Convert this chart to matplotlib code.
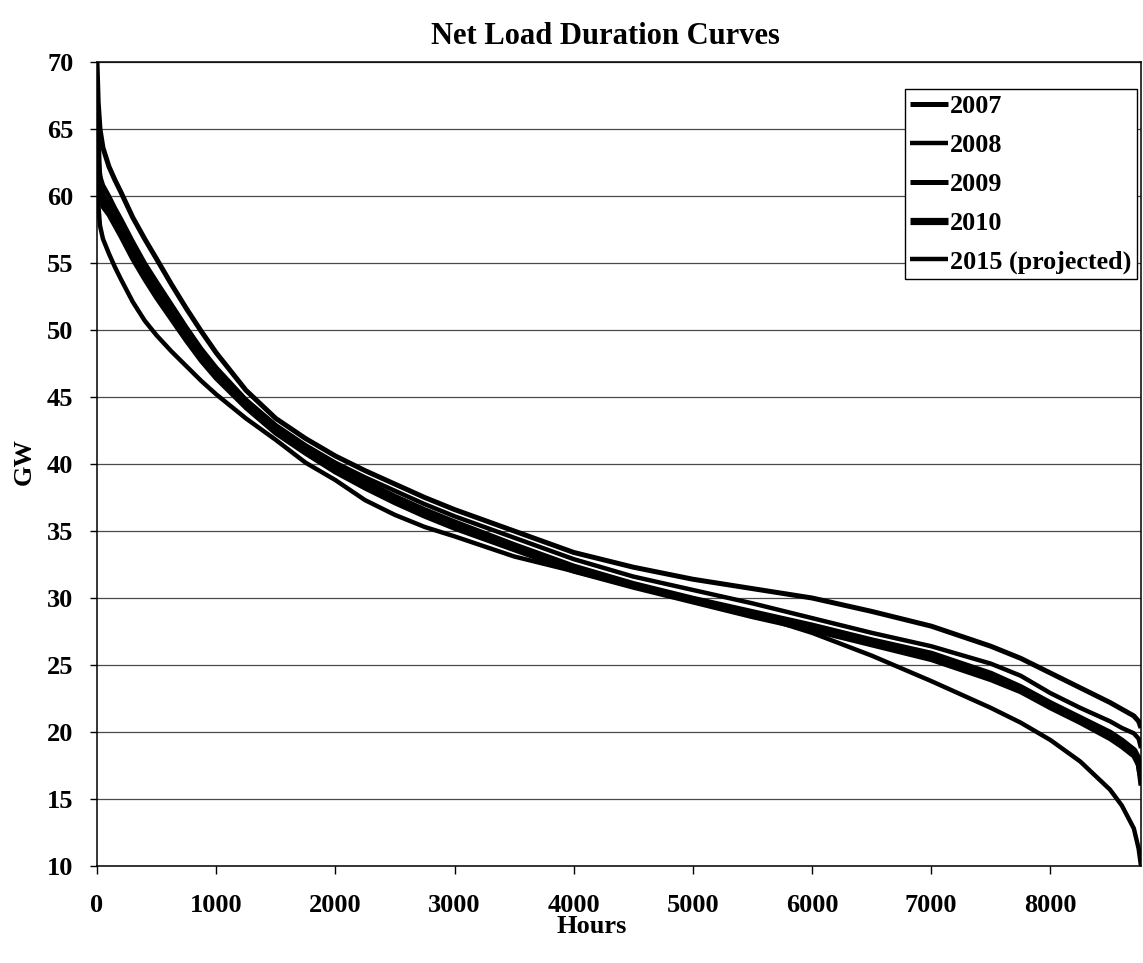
import matplotlib
matplotlib.use("Agg")
import matplotlib.pyplot as plt

plt.rcParams['font.family'] = ['Liberation Serif', 'DejaVu Serif']
plt.rcParams['font.weight'] = 'bold'

# Hours of the year (sorted duration axis)
hours = [0, 10, 25, 50, 100, 150, 200, 300, 400, 500, 625, 750, 875, 1000,
         1250, 1500, 1750, 2000, 2250, 2500, 2750, 3000, 3500, 4000, 4500,
         5000, 5500, 6000, 6500, 7000, 7500, 7750, 8000, 8250, 8500, 8600,
         8700, 8740, 8760]

# Net load (GW) sorted from highest to lowest hour
gw_2007 = [70.0, 67.0, 65.0, 63.6, 62.2, 61.2, 60.3, 58.4, 56.8, 55.3, 53.4,
           51.6, 49.9, 48.3, 45.5, 43.4, 41.9, 40.6, 39.5, 38.5, 37.5, 36.6,
           35.0, 33.4, 32.3, 31.4, 30.7, 30.0, 29.0, 27.9, 26.4, 25.5, 24.4,
           23.3, 22.2, 21.7, 21.2, 20.8, 20.3]
gw_2008 = [66.0, 63.0, 61.5, 60.8, 60.0, 59.1, 58.3, 56.6, 55.0, 53.6, 51.9,
           50.2, 48.6, 47.2, 44.8, 42.9, 41.4, 40.1, 39.0, 38.0, 37.0, 36.1,
           34.5, 32.9, 31.6, 30.6, 29.6, 28.5, 27.4, 26.4, 25.1, 24.2, 22.9,
           21.8, 20.8, 20.3, 19.9, 19.5, 18.8]
gw_2009 = [64.0, 61.0, 59.8, 59.2, 58.6, 57.8, 57.0, 55.3, 53.8, 52.4, 50.8,
           49.2, 47.7, 46.4, 44.2, 42.3, 40.8, 39.4, 38.2, 37.1, 36.1, 35.2,
           33.6, 32.0, 30.8, 29.7, 28.6, 27.6, 26.5, 25.4, 23.9, 23.0, 21.8,
           20.7, 19.5, 18.9, 18.2, 17.5, 16.0]
gw_2010 = [65.0, 62.0, 60.5, 59.9, 59.2, 58.4, 57.6, 55.9, 54.4, 53.0, 51.3,
           49.7, 48.2, 46.8, 44.6, 42.7, 41.1, 39.8, 38.6, 37.5, 36.5, 35.6,
           33.9, 32.3, 31.0, 29.9, 28.9, 27.9, 26.8, 25.8, 24.3, 23.3, 22.1,
           21.0, 19.9, 19.3, 18.6, 17.9, 16.8]
gw_2015 = [62.0, 59.5, 57.8, 56.8, 55.7, 54.7, 53.8, 52.1, 50.7, 49.6, 48.4,
           47.3, 46.2, 45.2, 43.4, 41.8, 40.1, 38.8, 37.3, 36.2, 35.3, 34.6,
           33.1, 32.0, 30.9, 29.9, 28.8, 27.4, 25.7, 23.8, 21.8, 20.7, 19.4,
           17.8, 15.7, 14.5, 12.8, 11.3, 10.0]

series_labels = ['2007', '2008', '2009', '2010', '2015 (projected)']
series_values = [gw_2007, gw_2008, gw_2009, gw_2010, gw_2015]
series_widths = [3.6, 3.2, 3.6, 5.2, 3.2]

x_ticks = [0, 1000, 2000, 3000, 4000, 5000, 6000, 7000, 8000]
y_ticks = [10, 15, 20, 25, 30, 35, 40, 45, 50, 55, 60, 65, 70]

W, H = 1143, 963
fig = plt.figure(figsize=(W / 100, H / 100), dpi=100)
ax = fig.add_axes([97 / W, (H - 866) / H, (1141 - 97) / W, (866 - 62) / H])

for label, vals, lw in zip(series_labels, series_values, series_widths):
    ax.plot(hours, vals, color='black', lw=lw, label=label,
            solid_capstyle='butt', solid_joinstyle='round')

ax.set_xlim(0, 8760)
ax.set_ylim(10, 70)
ax.set_xticks(x_ticks)
ax.set_yticks(y_ticks)
ax.tick_params(axis='x', direction='out', length=6, width=1, pad=14,
               labelsize=19)
ax.tick_params(axis='y', direction='out', length=5, width=1, pad=12,
               labelsize=19)
for lbl in ax.get_xticklabels() + ax.get_yticklabels():
    lbl.set_fontweight('bold')

ax.yaxis.grid(True, color='#4a4a4a', lw=0.9)
ax.set_axisbelow(True)
for side in ['left', 'bottom', 'top', 'right']:
    ax.spines[side].set_color('black')
    ax.spines[side].set_linewidth(1.1)

leg = ax.legend(loc='upper right', bbox_to_anchor=(0.996, 0.966),
                borderaxespad=0, frameon=True, fancybox=False,
                edgecolor='black', framealpha=1, handlelength=1.45,
                handletextpad=0.1, borderpad=0.2, labelspacing=0.6,
                prop={'family': 'Liberation Serif', 'weight': 'bold',
                      'size': 18.8})
leg.get_frame().set_linewidth(1.0)

fig.text(605 / W, 1 - 36 / H, 'Net Load Duration Curves', ha='center',
         va='center', fontsize=22, fontweight='bold')
fig.text(592 / W, 1 - 926 / H, 'Hours', ha='center', va='center',
         fontsize=19, fontweight='bold')
fig.text(24 / W, 1 - 462 / H, 'GW', ha='center', va='center', rotation=90,
         fontsize=19, fontweight='bold')

fig.savefig('out.png', dpi=100, facecolor='white')
